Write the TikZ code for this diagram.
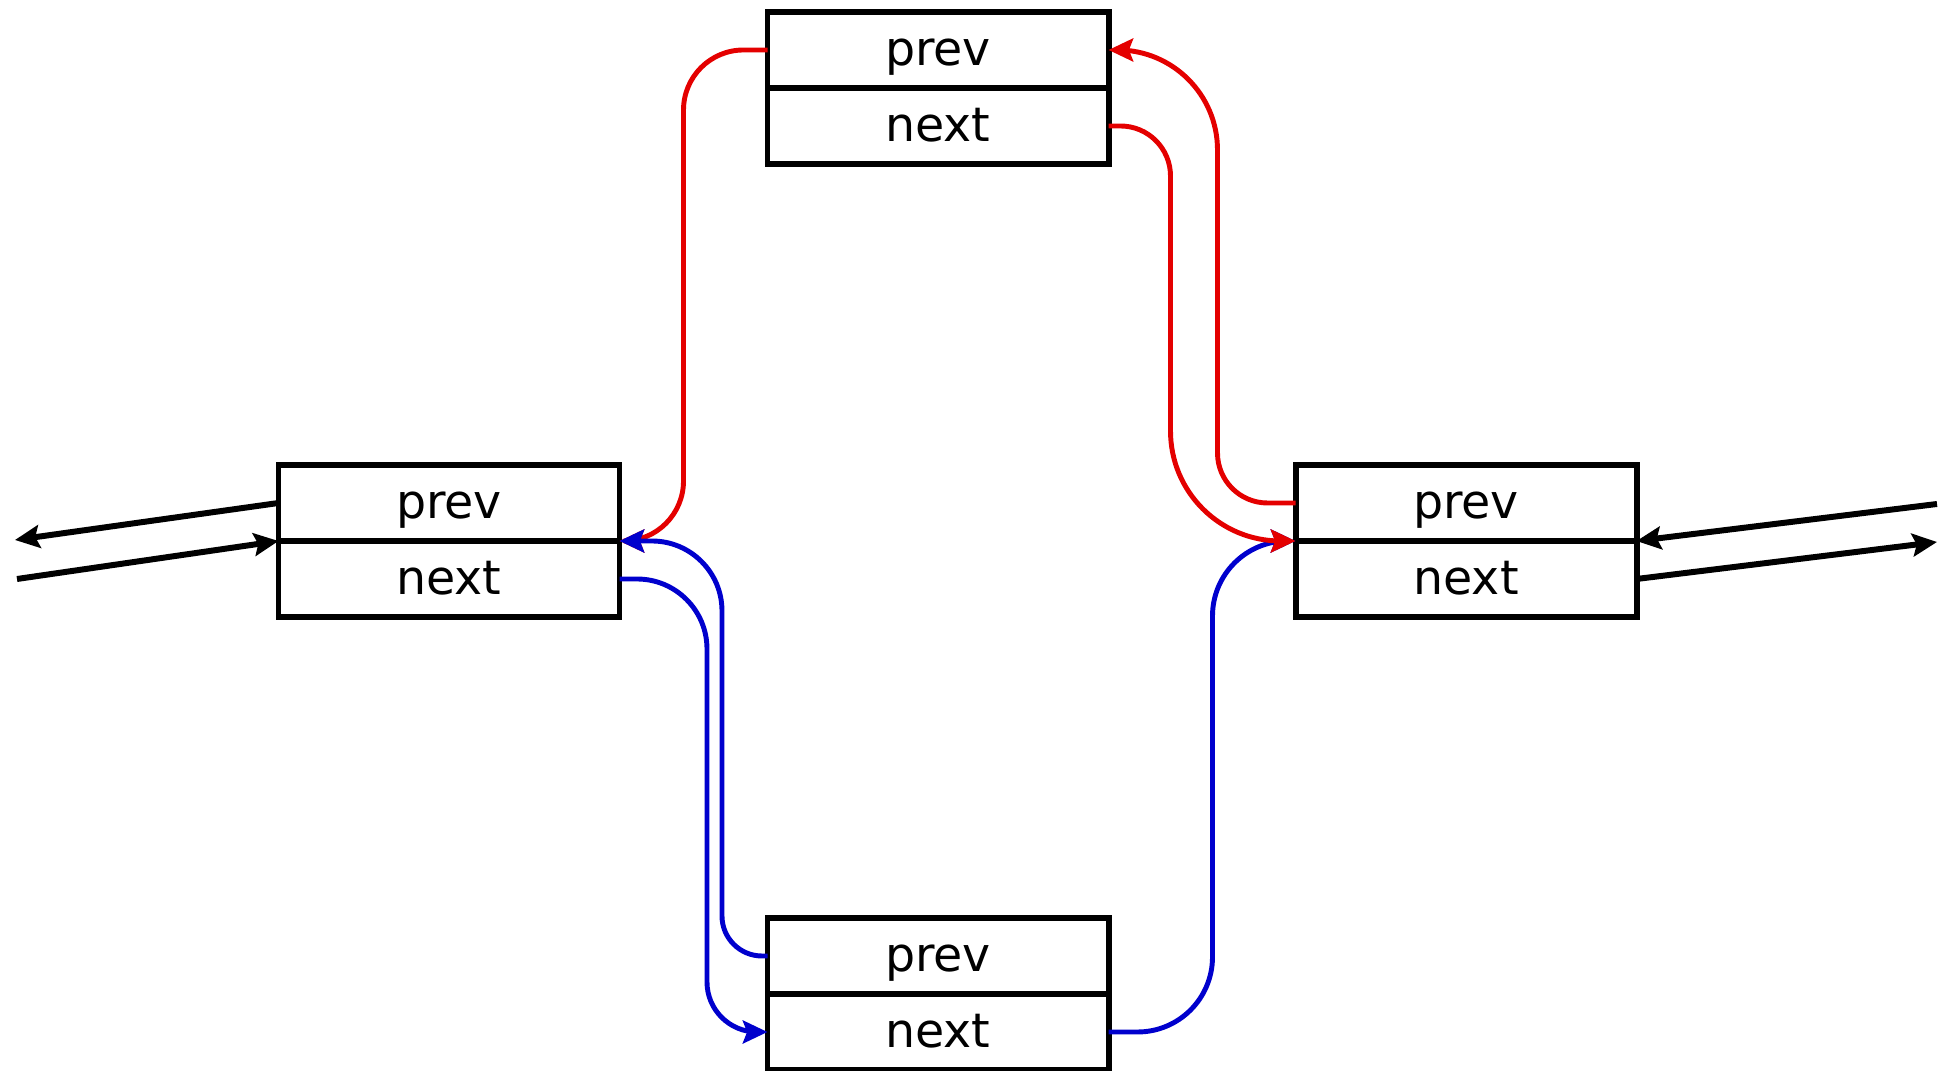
\documentclass[tikz,border=0pt]{standalone}
\usepackage{fontspec}
\setmainfont{DejaVu Sans}
\usetikzlibrary{arrows.meta,positioning}
\definecolor{linkred}{RGB}{228,0,0}
\definecolor{linkblue}{RGB}{0,0,205}

\begin{document}
\begin{tikzpicture}[>={Stealth[length=7pt,width=6.5pt,inset=1.2pt]}]
                \tikzstyle{cell}=[draw=black,line width=1.7pt,outer sep=0pt,inner sep=0pt,minimum width=3.41cm,minimum height=0.76cm,text height=9pt,text depth=0pt,font=\fontsize{13.5}{15}\selectfont]
                \tikzstyle{link}=[->,line width=1.7pt,draw=black]
                \tikzstyle{old}=[->,line width=1.4pt,draw=linkred,rounded corners=0.6cm]
                \tikzstyle{new}=[->,line width=1.4pt,draw=linkblue,rounded corners=0.6cm]
                \useasboundingbox (0,0) rectangle (19.51,10.71);

                % the four list entries, prev on top of next
                \node[cell] (l_prev) at (4.49,5.68) {prev};
                \node[cell] (l_next) [below=0pt of l_prev] {next};
                \node[cell] (t_prev) at (9.38,10.21) {prev};
                \node[cell] (t_next) [below=0pt of t_prev] {next};
                \node[cell] (r_prev) at (14.66,5.68) {prev};
                \node[cell] (r_next) [below=0pt of r_prev] {next};
                \node[cell] (b_prev) at (9.38,1.15) {prev};
                \node[cell] (b_next) [below=0pt of b_prev] {next};

                % rest of the list
                \coordinate (l_out) at (0.15,5.31);
                \coordinate (l_in) at (0.17,4.92);
                \coordinate (r_in) at (19.37,5.67);
                \coordinate (r_out) at (19.37,5.29);

                \draw[link] (l_prev.west) -- (l_out);
                \draw[link] (l_in) -- (l_prev.south west);
                \draw[link] (r_in) -- (r_prev.south east);
                \draw[link] (r_next.east) -- (r_out);

                % old links (red) and new links (blue)
                \draw[old] (t_prev.west) -- ++(-0.84,0) |- (l_prev.south east);
                \draw[new,rounded corners=0.7cm] (l_next.east) -- ++(0.875,0) -- ++(0,-1.5) [rounded corners=0.5cm] |- (b_next.west);
                \draw[new,rounded corners=0.4cm] (b_prev.west) -- ++(-0.455,0) -- ++(0,1.5) [rounded corners=0.7cm] |- (l_prev.south east);
                \draw[new,rounded corners=0.75cm] (b_next.east) -- ++(1.04,0) |- (r_prev.south west);
                \draw[old,rounded corners=0.5cm] (t_next.east) -- ++(0.62,0) -- ++(0,-2) [rounded corners=1.1cm] |- (r_prev.south west);
                \draw[old,rounded corners=0.5cm] (r_prev.west) -- ++(-0.78,0) -- ++(0,2) [rounded corners=1cm] |- (t_prev.east);
\end{tikzpicture}
\end{document}
